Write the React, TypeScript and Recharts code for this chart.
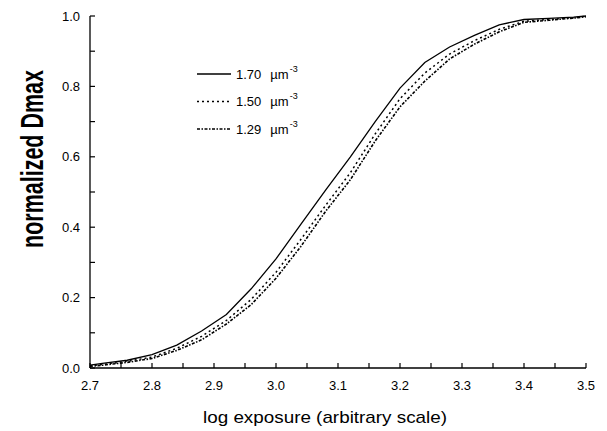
import { Customized, Line, LineChart, XAxis, YAxis } from "recharts";

const exposure = [2.7, 2.72, 2.76, 2.8, 2.84, 2.88, 2.92, 2.96, 3.0, 3.04, 3.08, 3.12, 3.16, 3.2, 3.24, 3.28, 3.32, 3.36, 3.4, 3.44, 3.48, 3.5];
const dmax170 = [0.008, 0.013, 0.022, 0.038, 0.065, 0.105, 0.152, 0.225, 0.31, 0.408, 0.505, 0.6, 0.7, 0.795, 0.868, 0.912, 0.945, 0.975, 0.99, 0.993, 0.997, 1.0];
const dmax150 = [0.006, 0.01, 0.019, 0.031, 0.056, 0.09, 0.135, 0.195, 0.272, 0.365, 0.462, 0.555, 0.665, 0.765, 0.838, 0.892, 0.93, 0.962, 0.985, 0.99, 0.995, 0.999];
const dmax129 = [0.005, 0.008, 0.016, 0.027, 0.05, 0.08, 0.125, 0.18, 0.255, 0.345, 0.445, 0.535, 0.645, 0.742, 0.815, 0.878, 0.92, 0.955, 0.982, 0.988, 0.994, 0.998];

const xTicks = [2.7, 2.75, 2.8, 2.85, 2.9, 2.95, 3.0, 3.05, 3.1, 3.15, 3.2, 3.25, 3.3, 3.35, 3.4, 3.45, 3.5];
const yTicks = [0, 0.1, 0.2, 0.3, 0.4, 0.5, 0.6, 0.7, 0.8, 0.9, 1.0];

const series = [
  { key: "d170", label: "1.70", dash: undefined as string | undefined, width: 1.3 },
  { key: "d150", label: "1.50", dash: "2 3", width: 1.5 },
  { key: "d129", label: "1.29", dash: "3 1.5 1.5 1.5", width: 1.6 },
];

const data = exposure.map((x, i) => ({ x, d170: dmax170[i], d150: dmax150[i], d129: dmax129[i] }));

const font = "'Liberation Sans', Arial, sans-serif";

const isMajor = (v: number, step: number) => Math.abs(v / step - Math.round(v / step)) < 1e-6;

function XTick({ x, y, payload }: any) {
  const v = payload.value as number;
  return (
    <g>
      <line x1={x} x2={x} y1={y} y2={y - 5} stroke="#000" strokeWidth={1.2} />
      {isMajor(v, 0.1) && (
        <text x={x} y={y + 22} textAnchor="middle" fontSize={13} fontFamily={font} fill="#000">
          {v.toFixed(1)}
        </text>
      )}
    </g>
  );
}

function YTick({ x, y, payload }: any) {
  const v = payload.value as number;
  return (
    <g>
      <line x1={x} x2={x + 5} y1={y} y2={y} stroke="#000" strokeWidth={1.2} />
      {isMajor(v, 0.2) && (
        <text x={x - 10} y={y + 4.5} textAnchor="end" fontSize={13} fontFamily={font} fill="#000">
          {v.toFixed(1)}
        </text>
      )}
    </g>
  );
}

function Extras() {
  return (
    <g>
      {series.map((s, i) => {
        const cy = 74 + i * 27.5;
        return (
          <g key={s.key}>
            <line x1={197} x2={231} y1={cy} y2={cy} stroke="#000" strokeWidth={s.width} strokeDasharray={s.dash} />
            <text x={236} y={cy + 4.5} fontSize={13} fontFamily={font} fill="#000">
              {s.label}
              <tspan dx={9}>µm</tspan>
              <tspan dx={1} dy={-7} fontSize={9}>-3</tspan>
            </text>
          </g>
        );
      })}
      <g transform="translate(43, 159) rotate(-90)">
        <text
          x={0}
          y={0}
          textAnchor="middle"
          fontSize={31}
          fontWeight="bold"
          fontFamily="'Liberation Sans Narrow', 'Liberation Sans', Arial, sans-serif"
          textLength={178}
          lengthAdjust="spacingAndGlyphs"
          fill="#000"
        >
          normalized Dmax
        </text>
      </g>
      <text
        x={325}
        y={423}
        textAnchor="middle"
        fontSize={17}
        fontFamily={font}
        textLength={244}
        lengthAdjust="spacingAndGlyphs"
        fill="#000"
      >
        log exposure (arbitrary scale)
      </text>
    </g>
  );
}

export default function App() {
  return (
    <div style={{ position: "absolute", left: 0, top: 0, width: 607, height: 431, background: "#fff" }}>
      <LineChart width={607} height={431} data={data} margin={{ top: 16, right: 21, bottom: 33, left: 0 }}>
        <XAxis
          dataKey="x"
          type="number"
          domain={[2.7, 3.5]}
          ticks={xTicks}
          interval={0}
          tickSize={0}
          tickMargin={0}
          tickLine={false}
          tick={<XTick />}
          axisLine={{ stroke: "#000", strokeWidth: 1.3 }}
          height={30}
        />
        <YAxis
          type="number"
          domain={[0, 1]}
          ticks={yTicks}
          interval={0}
          tickSize={0}
          tickMargin={0}
          tickLine={false}
          tick={<YTick />}
          axisLine={{ stroke: "#000", strokeWidth: 1.3 }}
          width={90}
        />
        {series.map((s) => (
          <Line
            key={s.key}
            type="linear"
            dataKey={s.key}
            stroke="#000"
            strokeWidth={s.width}
            strokeDasharray={s.dash}
            dot={false}
            activeDot={false}
            isAnimationActive={false}
          />
        ))}
        <Customized component={Extras} />
      </LineChart>
    </div>
  );
}
